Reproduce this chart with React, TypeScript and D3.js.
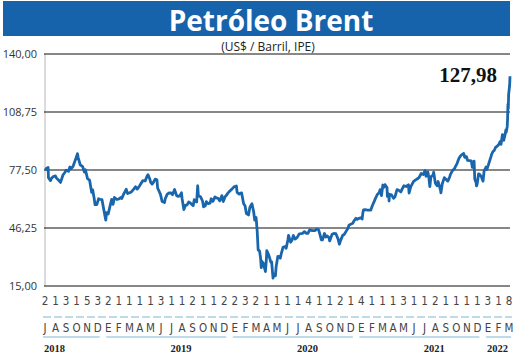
import React, { useEffect, useRef } from 'react';
import * as d3 from 'd3';

// Brent (ICE) closes, US$/barril
const brent2018: [string, number][] = [
  ['2018-07-02', 77.3], ['2018-07-04', 78.2], ['2018-07-10', 78.9], ['2018-07-11', 73.4],
  ['2018-07-17', 71.8], ['2018-07-20', 73.1], ['2018-07-25', 74.0], ['2018-07-31', 74.3],
  ['2018-08-03', 73.2], ['2018-08-09', 72.1], ['2018-08-15', 70.8], ['2018-08-22', 74.8],
  ['2018-08-28', 76.3], ['2018-08-31', 77.4], ['2018-09-07', 76.8], ['2018-09-11', 79.1],
  ['2018-09-14', 78.1], ['2018-09-20', 79.4], ['2018-09-25', 81.9], ['2018-10-01', 85.0],
  ['2018-10-03', 86.3], ['2018-10-05', 84.2], ['2018-10-11', 80.3], ['2018-10-18', 79.3],
  ['2018-10-23', 76.4], ['2018-10-26', 77.6], ['2018-11-01', 72.9], ['2018-11-07', 72.1],
  ['2018-11-13', 65.5], ['2018-11-16', 66.8], ['2018-11-20', 62.5], ['2018-11-23', 58.8],
  ['2018-11-28', 58.8], ['2018-12-03', 62.0], ['2018-12-07', 61.7], ['2018-12-13', 61.5],
  ['2018-12-18', 56.3], ['2018-12-24', 50.5], ['2018-12-26', 54.5], ['2018-12-31', 53.8],
];
const brent2019: [string, number][] = [
  ['2019-01-04', 57.1], ['2019-01-10', 61.7], ['2019-01-14', 59.0], ['2019-01-18', 62.7],
  ['2019-01-25', 61.6], ['2019-01-31', 61.9], ['2019-02-06', 62.7], ['2019-02-08', 62.1],
  ['2019-02-14', 64.6], ['2019-02-21', 67.1], ['2019-02-25', 64.8], ['2019-03-01', 65.1],
  ['2019-03-08', 65.7], ['2019-03-15', 67.2], ['2019-03-20', 68.5], ['2019-03-25', 67.2],
  ['2019-04-01', 69.0], ['2019-04-05', 70.3], ['2019-04-10', 71.7], ['2019-04-17', 71.6],
  ['2019-04-22', 74.0], ['2019-04-25', 75.0], ['2019-04-30', 72.8], ['2019-05-03', 70.8],
  ['2019-05-07', 69.9], ['2019-05-10', 70.6], ['2019-05-16', 72.6], ['2019-05-21', 72.2],
  ['2019-05-23', 67.8], ['2019-05-31', 64.5], ['2019-06-05', 60.6], ['2019-06-12', 60.0],
  ['2019-06-14', 62.0], ['2019-06-20', 64.5], ['2019-06-25', 65.1], ['2019-07-01', 65.1],
  ['2019-07-05', 64.2], ['2019-07-11', 67.0], ['2019-07-17', 63.7], ['2019-07-22', 63.3],
  ['2019-07-26', 63.5], ['2019-07-31', 65.2], ['2019-08-02', 61.9], ['2019-08-07', 56.2],
  ['2019-08-12', 58.6], ['2019-08-16', 58.6], ['2019-08-21', 60.3], ['2019-08-27', 59.5],
  ['2019-09-03', 58.3], ['2019-09-06', 61.5], ['2019-09-13', 60.2], ['2019-09-16', 69.0],
  ['2019-09-18', 63.6], ['2019-09-24', 63.1], ['2019-09-30', 60.8], ['2019-10-03', 57.7],
  ['2019-10-08', 58.2], ['2019-10-11', 60.5], ['2019-10-16', 59.4], ['2019-10-22', 59.7],
  ['2019-10-25', 62.0], ['2019-10-30', 60.6], ['2019-11-05', 63.0], ['2019-11-08', 62.5],
  ['2019-11-13', 62.4], ['2019-11-19', 60.9], ['2019-11-25', 63.7], ['2019-11-29', 60.5],
  ['2019-12-04', 63.0], ['2019-12-10', 64.3], ['2019-12-13', 65.2], ['2019-12-18', 66.2],
  ['2019-12-24', 67.2], ['2019-12-30', 68.4],
];
const brent2020: [string, number][] = [
  ['2020-01-06', 68.9], ['2020-01-08', 65.4], ['2020-01-14', 64.5], ['2020-01-17', 64.9],
  ['2020-01-21', 65.2], ['2020-01-27', 59.3], ['2020-01-31', 58.2], ['2020-02-04', 54.0],
  ['2020-02-10', 53.3], ['2020-02-14', 57.3], ['2020-02-20', 59.3], ['2020-02-25', 55.0],
  ['2020-02-28', 50.5], ['2020-03-03', 51.9], ['2020-03-06', 45.3], ['2020-03-09', 34.4],
  ['2020-03-13', 33.9], ['2020-03-16', 30.1], ['2020-03-18', 24.9], ['2020-03-19', 28.5],
  ['2020-03-24', 27.2], ['2020-03-30', 22.8], ['2020-04-02', 29.9], ['2020-04-03', 34.1],
  ['2020-04-09', 31.5], ['2020-04-15', 27.7], ['2020-04-17', 28.1], ['2020-04-21', 19.3],
  ['2020-04-24', 21.4], ['2020-04-28', 20.5], ['2020-04-30', 25.3], ['2020-05-05', 31.0],
  ['2020-05-08', 31.0], ['2020-05-12', 30.0], ['2020-05-15', 32.5], ['2020-05-20', 35.8],
  ['2020-05-26', 36.2], ['2020-05-29', 35.3], ['2020-06-03', 39.8], ['2020-06-05', 42.3],
  ['2020-06-11', 38.6], ['2020-06-15', 39.7], ['2020-06-19', 42.2], ['2020-06-24', 40.3],
  ['2020-06-30', 41.2], ['2020-07-06', 43.1], ['2020-07-10', 43.2], ['2020-07-16', 43.4],
  ['2020-07-21', 44.3], ['2020-07-27', 43.4], ['2020-07-31', 43.3], ['2020-08-05', 45.2],
  ['2020-08-10', 45.0], ['2020-08-14', 44.8], ['2020-08-20', 44.9], ['2020-08-26', 45.6],
  ['2020-08-31', 45.3], ['2020-09-04', 42.7], ['2020-09-08', 39.8], ['2020-09-11', 39.8],
  ['2020-09-17', 43.3], ['2020-09-21', 41.4], ['2020-09-25', 42.0], ['2020-09-30', 41.0],
  ['2020-10-02', 39.3], ['2020-10-09', 42.9], ['2020-10-14', 43.3], ['2020-10-20', 43.2],
  ['2020-10-26', 40.5], ['2020-10-30', 37.5], ['2020-11-03', 39.7], ['2020-11-09', 42.4],
  ['2020-11-13', 42.8], ['2020-11-18', 44.3], ['2020-11-24', 46.1], ['2020-11-27', 47.8],
  ['2020-12-02', 48.3], ['2020-12-08', 48.8], ['2020-12-11', 50.0], ['2020-12-17', 51.5],
  ['2020-12-21', 50.9], ['2020-12-24', 51.3], ['2020-12-31', 51.8],
];
const brent2021: [string, number][] = [
  ['2021-01-04', 51.1], ['2021-01-06', 54.3], ['2021-01-08', 56.0], ['2021-01-13', 56.1],
  ['2021-01-19', 55.9], ['2021-01-25', 55.9], ['2021-01-29', 55.9], ['2021-02-03', 58.5],
  ['2021-02-08', 60.6], ['2021-02-12', 62.4], ['2021-02-17', 64.3], ['2021-02-22', 65.2],
  ['2021-02-25', 66.9], ['2021-03-01', 63.7], ['2021-03-05', 69.4], ['2021-03-08', 68.2],
  ['2021-03-11', 69.6], ['2021-03-17', 68.0], ['2021-03-18', 63.3], ['2021-03-22', 64.6],
  ['2021-03-23', 60.8], ['2021-03-24', 64.4], ['2021-03-30', 64.1], ['2021-04-05', 62.2],
  ['2021-04-09', 63.0], ['2021-04-15', 66.9], ['2021-04-20', 66.6], ['2021-04-26', 65.7],
  ['2021-04-30', 67.3], ['2021-05-05', 69.0], ['2021-05-11', 68.6], ['2021-05-18', 69.5],
  ['2021-05-20', 65.1], ['2021-05-25', 68.7], ['2021-05-28', 69.6], ['2021-06-02', 71.4],
  ['2021-06-08', 72.2], ['2021-06-14', 72.9], ['2021-06-18', 73.5], ['2021-06-24', 75.6],
  ['2021-06-30', 75.1], ['2021-07-05', 77.2], ['2021-07-08', 74.1], ['2021-07-13', 76.5],
  ['2021-07-16', 73.6], ['2021-07-19', 68.6], ['2021-07-22', 73.8], ['2021-07-28', 74.7],
  ['2021-07-30', 76.3], ['2021-08-04', 70.4], ['2021-08-09', 69.0], ['2021-08-12', 71.3],
  ['2021-08-19', 66.5], ['2021-08-20', 65.2], ['2021-08-24', 70.1], ['2021-08-30', 73.4],
  ['2021-09-03', 72.6], ['2021-09-09', 71.5], ['2021-09-14', 73.6], ['2021-09-17', 75.3],
  ['2021-09-23', 77.3], ['2021-09-28', 78.1], ['2021-10-01', 79.3], ['2021-10-06', 81.1],
  ['2021-10-11', 83.7], ['2021-10-15', 84.9], ['2021-10-20', 85.8], ['2021-10-25', 86.4],
  ['2021-10-28', 84.3], ['2021-11-02', 84.7], ['2021-11-05', 82.7], ['2021-11-10', 82.6],
  ['2021-11-16', 82.4], ['2021-11-19', 78.9], ['2021-11-24', 82.3], ['2021-11-26', 72.7],
  ['2021-11-30', 70.6], ['2021-12-01', 68.9], ['2021-12-03', 69.9], ['2021-12-07', 75.4],
  ['2021-12-10', 75.2], ['2021-12-15', 73.9], ['2021-12-20', 71.5], ['2021-12-23', 76.9],
  ['2021-12-29', 79.2], ['2021-12-31', 77.8],
];
const brent2022: [string, number][] = [
  ['2022-01-04', 80.0], ['2022-01-07', 81.8], ['2022-01-12', 84.7], ['2022-01-14', 86.1],
  ['2022-01-18', 87.5], ['2022-01-21', 87.9], ['2022-01-26', 90.0], ['2022-01-28', 90.0],
  ['2022-02-03', 91.1], ['2022-02-07', 92.7], ['2022-02-10', 91.4], ['2022-02-14', 96.5],
  ['2022-02-16', 94.8], ['2022-02-18', 93.5], ['2022-02-22', 96.8], ['2022-02-24', 99.1],
  ['2022-02-25', 97.9], ['2022-02-28', 101.0], ['2022-03-01', 105.0], ['2022-03-02', 112.9],
  ['2022-03-03', 110.5], ['2022-03-04', 118.1], ['2022-03-07', 123.2], ['2022-03-08', 127.98],
];

const yTicks = [15, 46.25, 77.5, 108.75, 140];
const lastLabel = '127,98';

// primer día de cotización de cada mes (jul-2018 .. mar-2022)
const firstDays = [
  '2', '1', '3', '1', '5', '3',
  '2', '1', '1', '1', '1', '3', '1', '1', '2', '1', '1', '2',
  '2', '3', '2', '1', '1', '1', '1', '4', '1', '1', '2', '1',
  '4', '1', '1', '1', '3', '1', '1', '2', '1', '1', '1', '1',
  '3', '1', '8',
];
const monthLetters = [
  'J', 'A', 'S', 'O', 'N', 'D',
  'E', 'F', 'M', 'A', 'M', 'J', 'J', 'A', 'S', 'O', 'N', 'D',
  'E', 'F', 'M', 'A', 'M', 'J', 'J', 'A', 'S', 'O', 'N', 'D',
  'E', 'F', 'M', 'A', 'M', 'J', 'J', 'A', 'S', 'O', 'N', 'D',
  'E', 'F', 'M',
];
const years = ['2018', '2019', '2020', '2021', '2022'];
const yearFirstMonth = [0, 6, 18, 30, 42];
const yearLastMonth = [5, 17, 29, 41, 44];
const yearLabelMonth = [0, 12, 24, 36, 42];

const W = 520;
const H = 359;
const BLUE = '#1763ab';
const LIGHT = '#a9d0e4';

export default function App() {
  const ref = useRef<SVGSVGElement>(null);

  useEffect(() => {
    const svg = d3.select(ref.current);
    svg.selectAll('*').remove();

    const parse = d3.timeParse('%Y-%m-%d');
    const data = [...brent2018, ...brent2019, ...brent2020, ...brent2021, ...brent2022]
      .map(([d, v]) => ({ date: parse(d) as Date, value: v }));

    const x = d3.scaleTime()
      .domain([new Date(2018, 6, 1), new Date(2022, 2, 8)])
      .range([45, 510]);
    const y = d3.scaleLinear().domain([15, 140]).range([286, 54]);
    const months = d3.scalePoint<number>()
      .domain(d3.range(monthLetters.length))
      .range([45, 509]);

    // banner
    svg.append('rect')
      .attr('x', 3).attr('y', 1).attr('width', 507).attr('height', 35)
      .attr('fill', BLUE);
    svg.append('text')
      .attr('x', 271).attr('y', 31)
      .attr('text-anchor', 'middle')
      .attr('font-family', 'Open Sans, sans-serif')
      .attr('font-weight', 700)
      .attr('font-size', 28)
      .attr('fill', 'white')
      .text('Petróleo Brent');

    // vertical axis line
    svg.append('line')
      .attr('x1', 45).attr('x2', 45)
      .attr('y1', y(140)).attr('y2', y(15))
      .attr('stroke', '#cfcfcf').attr('stroke-width', 1.5);

    // grid + y labels
    const fmt = (v: number) => d3.format('.2f')(v).replace('.', ',');
    svg.selectAll('line.grid')
      .data(yTicks)
      .enter()
      .append('line')
      .attr('class', 'grid')
      .attr('x1', 44).attr('x2', 510)
      .attr('y1', d => y(d)).attr('y2', d => y(d))
      .attr('stroke', '#111').attr('stroke-width', 1.2);
    svg.selectAll('text.ylab')
      .data(yTicks)
      .enter()
      .append('text')
      .attr('class', 'ylab')
      .attr('x', 37)
      .attr('y', d => y(d) + 4)
      .attr('text-anchor', 'end')
      .attr('font-family', 'Open Sans, sans-serif')
      .attr('font-size', 11)
      .attr('fill', '#333')
      .text(d => fmt(d));

    svg.append('text')
      .attr('x', 268).attr('y', 51)
      .attr('text-anchor', 'middle')
      .attr('font-family', 'Open Sans, sans-serif')
      .attr('font-size', 12)
      .attr('fill', '#222')
      .text('(US$ / Barril, IPE)');

    // price line
    const line = d3.line<{ date: Date; value: number }>()
      .x(d => x(d.date))
      .y(d => y(d.value));
    svg.append('path')
      .datum(data)
      .attr('d', line)
      .attr('fill', 'none')
      .attr('stroke', '#1a66ad')
      .attr('stroke-width', 2.8)
      .attr('stroke-linejoin', 'round');

    svg.append('text')
      .attr('x', 497).attr('y', 82)
      .attr('text-anchor', 'end')
      .attr('font-family', 'Liberation Serif, serif')
      .attr('font-weight', 700)
      .attr('font-size', 21)
      .attr('fill', '#111')
      .text(lastLabel);

    // x labels
    const narrow = 'Liberation Sans Narrow, DejaVu Sans Condensed, sans-serif';
    svg.selectAll('text.day')
      .data(firstDays)
      .enter()
      .append('text')
      .attr('class', 'day')
      .attr('x', (d, i) => months(i) as number)
      .attr('y', 305)
      .attr('text-anchor', 'middle')
      .attr('font-family', narrow)
      .attr('font-size', 11.5)
      .attr('fill', '#444')
      .text(d => d);

    svg.append('line')
      .attr('x1', 43).attr('x2', 512)
      .attr('y1', 317).attr('y2', 317)
      .attr('stroke', LIGHT).attr('stroke-width', 1.5)
      .attr('stroke-dasharray', '8,3');

    svg.selectAll('text.month')
      .data(monthLetters)
      .enter()
      .append('text')
      .attr('class', 'month')
      .attr('x', (d, i) => months(i) as number)
      .attr('y', 332)
      .attr('text-anchor', 'middle')
      .attr('font-family', narrow)
      .attr('font-size', 11.5)
      .attr('fill', '#444')
      .text(d => d);

    svg.selectAll('line.year')
      .data(years)
      .enter()
      .append('line')
      .attr('class', 'year')
      .attr('x1', (d, i) => (months(yearFirstMonth[i]) as number) - 2)
      .attr('x2', (d, i) => (months(yearLastMonth[i]) as number) + 2)
      .attr('y1', 337).attr('y2', 337)
      .attr('stroke', LIGHT).attr('stroke-width', 1.5);

    svg.selectAll('text.year')
      .data(years)
      .enter()
      .append('text')
      .attr('class', 'year')
      .attr('x', (d, i) => (months(yearLabelMonth[i]) as number) - 1)
      .attr('y', 352)
      .attr('font-family', 'Liberation Serif, serif')
      .attr('font-weight', 700)
      .attr('font-size', 10.5)
      .attr('fill', '#222')
      .text(d => d);
  }, []);

  return (
    <svg
      ref={ref}
      width={W}
      height={H}
      style={{ position: 'absolute', left: 0, top: 0, background: 'white' }}
    />
  );
}
